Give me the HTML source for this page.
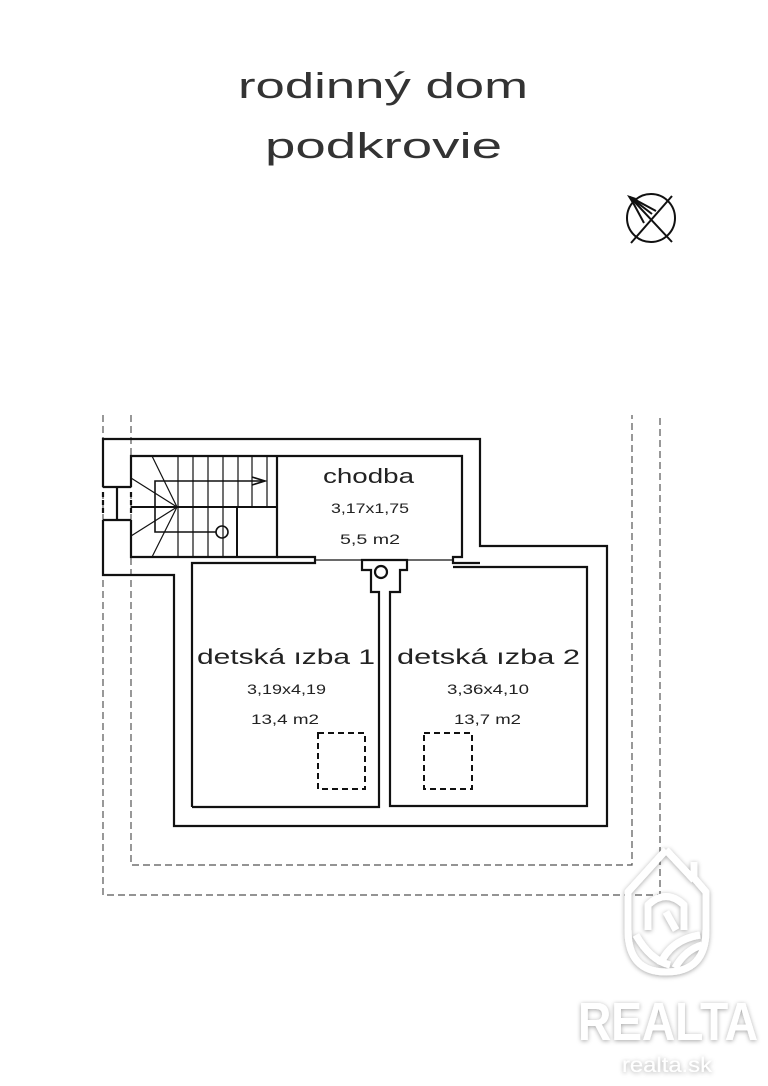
<!DOCTYPE html>
<html><head><meta charset="utf-8"><style>
html,body{margin:0;padding:0;background:#fff;}
svg{display:block}
text{font-family:"Liberation Sans","DejaVu Sans",sans-serif;fill:#222}
</style></head><body>
<svg width="768" height="1086" viewBox="0 0 768 1086" xmlns="http://www.w3.org/2000/svg">
<defs>
<filter id="sh" x="-20%" y="-20%" width="140%" height="140%">
<feDropShadow dx="0" dy="1" stdDeviation="2.5" flood-color="#000" flood-opacity="0.35"/>
</filter>
</defs>
<!-- titles -->
<text x="238" y="98" font-size="36" textLength="290" lengthAdjust="spacingAndGlyphs" style="fill:#333">rodinný dom</text>
<text x="265" y="158" font-size="36" textLength="237" lengthAdjust="spacingAndGlyphs" style="fill:#333">podkrovie</text>

<!-- compass -->
<g stroke="#111" stroke-width="2" fill="none">
<circle cx="651" cy="218" r="24"/>
<line x1="631" y1="243" x2="672" y2="196"/>
<line x1="630" y1="197" x2="672" y2="242"/>
<line x1="630" y1="197" x2="656" y2="211"/>
<line x1="630" y1="197" x2="644" y2="223"/>
<line x1="630" y1="197" x2="652" y2="214"/>
</g>
<polygon points="627,195 636,198 632,203" fill="#111"/>

<!-- dashed outlines -->
<g stroke="#555" stroke-width="1.2" fill="none" stroke-dasharray="7,4">
<polyline points="103,415 103,895 660,895 660,415"/>
<polyline points="131,415 131,865 632,865 632,415"/>
</g>

<g stroke="#111" stroke-width="2.2" fill="none">
<polyline points="103,487 103,439 480,439 480,546 607,546 607,826 174,826 174,575 103,575 103,520"/>
<line x1="103" y1="487" x2="131" y2="487"/>
<line x1="103" y1="520" x2="131" y2="520"/>
<line x1="117" y1="487" x2="117" y2="520"/>
<line x1="103" y1="492" x2="103" y2="516" stroke-dasharray="5,3"/>
<line x1="131" y1="492" x2="131" y2="516" stroke-dasharray="5,3"/>
<polyline points="131,487 131,456 462,456 462,557 453,557 453,563 480,563"/>
<polyline points="131,520 131,557 277,557 277,456"/>
<polyline points="192,807 192,563 315,563 315,557 277,557"/>
<polyline points="192,807 379,807 379,592 371,592 371,570 362,570 362,560 407,560 407,570 400,570 400,592 390,592 390,806 587,806 587,567 453,567"/>
<circle cx="381" cy="572" r="6"/>
</g>
<g stroke="#111" stroke-width="1.2" fill="none">
<line x1="315" y1="560" x2="362" y2="560"/>
<line x1="407" y1="560" x2="453" y2="560"/>
<line x1="131" y1="507" x2="277" y2="507" stroke-width="2"/>
<line x1="237" y1="507" x2="237" y2="557" stroke-width="2"/>
<line x1="178" y1="456" x2="178" y2="557"/>
<line x1="193" y1="456" x2="193" y2="557"/>
<line x1="208" y1="456" x2="208" y2="557"/>
<line x1="223" y1="456" x2="223" y2="557"/>
<line x1="238" y1="456" x2="238" y2="507"/>
<line x1="252" y1="456" x2="252" y2="507"/>
<line x1="267" y1="456" x2="267" y2="507"/>
<line x1="177" y1="507" x2="152" y2="456"/>
<line x1="177" y1="507" x2="131" y2="478"/>
<line x1="177" y1="507" x2="131" y2="536"/>
<line x1="177" y1="507" x2="152" y2="557"/>
<polyline points="265,481 155,481 155,532 216,532" stroke-width="1.6"/>
<polyline points="252,477 265,481 252,485" stroke-width="1.6"/>
<circle cx="222" cy="532" r="6" stroke-width="1.6"/>
</g>
<g stroke="#111" stroke-width="2" fill="none" stroke-dasharray="6,4">
<rect x="318" y="733" width="47" height="56"/>
<rect x="424" y="733" width="48" height="56"/>
</g>

<text x="323" y="483" font-size="20" textLength="91" lengthAdjust="spacingAndGlyphs">chodba</text>
<text x="331" y="513" font-size="14" textLength="78" lengthAdjust="spacingAndGlyphs">3,17x1,75</text>
<text x="340" y="544" font-size="14" textLength="60" lengthAdjust="spacingAndGlyphs">5,5 m2</text>
<text x="197" y="664" font-size="21" textLength="178" lengthAdjust="spacingAndGlyphs">detská ızba 1</text>
<text x="247" y="694" font-size="14" textLength="79" lengthAdjust="spacingAndGlyphs">3,19x4,19</text>
<text x="251" y="724" font-size="14" textLength="68" lengthAdjust="spacingAndGlyphs">13,4 m2</text>
<text x="397" y="664" font-size="21" textLength="183" lengthAdjust="spacingAndGlyphs">detská ızba 2</text>
<text x="447" y="694" font-size="14" textLength="82" lengthAdjust="spacingAndGlyphs">3,36x4,10</text>
<text x="454" y="724" font-size="14" textLength="67" lengthAdjust="spacingAndGlyphs">13,7 m2</text>

<g filter="url(#sh)">
<g stroke="#fff" stroke-width="7" fill="none" stroke-linejoin="round">
<path d="M666,850 L628,892 L628,930 Q628,972 666,972 Q706,972 706,930 L706,892 L694,878 L694,862"/>
<path d="M666,850 L694,880"/>
<path d="M648,930 L648,905 Q666,888 684,905 L684,930"/>
<path d="M666,912 L676,930"/>
<path d="M636,935 Q650,960 670,965"/>
<path d="M660,965 Q670,940 700,935"/>
<path d="M675,968 Q685,950 702,945"/>
</g>
<text x="578" y="1040" font-weight="bold" font-size="54" style="fill:#fff" textLength="180" lengthAdjust="spacingAndGlyphs">REALTA</text>
<text x="622" y="1072" font-size="21" style="fill:#fff" textLength="90" lengthAdjust="spacingAndGlyphs">realta.sk</text>
</g>
</svg>
</body></html>
